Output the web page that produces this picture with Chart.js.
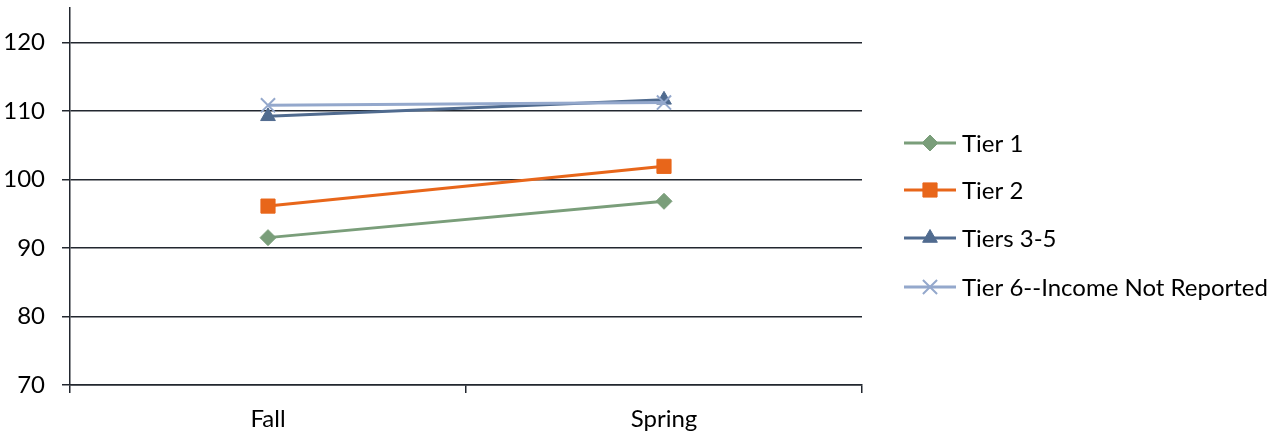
<!DOCTYPE html>
<html>
<head>
<meta charset="utf-8">
<script src="https://cdn.jsdelivr.net/npm/chart.js@4"></script>
<style>
html,body{margin:0;padding:0;background:#fff;}
#wrap{width:1288px;height:436px;position:relative;}
</style>
</head>
<body>
<div id="wrap"><canvas id="c" width="1288" height="436"></canvas></div>
<script>
const categories = ["Fall", "Spring"];
const seriesNames = ["Tier 1", "Tier 2", "Tiers 3-5", "Tier 6--Income Not Reported"];
const tier1 = [91.5, 96.8];
const tier2 = [96.1, 101.9];
const tiers3to5 = [109.2, 111.6];
const tier6 = [110.8, 111.2];
const yTicks = [70, 80, 90, 100, 110, 120];

const FONT = "Lato, 'Liberation Sans', sans-serif";
const FS = 24;
const AXIS = "#22272F";

const colors = ["#7A9E7A", "#E8661A", "#506B8F", "#94A8CC"];
const styles = ["rectRot", "rect", "triangle", "crossRot"];
const radii = [8, 10, 8.5, 10];
const values = [tier1, tier2, tiers3to5, tier6];

const datasets = seriesNames.map((n, i) => ({
  label: n,
  data: values[i],
  borderColor: colors[i],
  backgroundColor: colors[i],
  pointBackgroundColor: colors[i],
  pointBorderColor: colors[i],
  pointStyle: styles[i],
  pointRadius: radii[i],
  pointBorderWidth: i === 3 ? 2 : 1,
  borderWidth: 3,
  tension: 0,
  clip: false,
  order: 4 - i
}));

const legendPlugin = {
  id: 'sideLegend',
  afterDraw(chart) {
    const ctx = chart.ctx;
    const x0 = 904, x1 = 956, tx = 962;
    const ys = [143, 190, 238, 287];
    ctx.save();
    datasets.forEach((ds, i) => {
      const y = ys[i];
      ctx.strokeStyle = ds.borderColor;
      ctx.lineWidth = 3;
      ctx.beginPath(); ctx.moveTo(x0, y); ctx.lineTo(x1, y); ctx.stroke();
      ctx.fillStyle = ds.backgroundColor;
      ctx.strokeStyle = ds.borderColor;
      ctx.lineWidth = ds.pointBorderWidth;
      Chart.helpers.drawPoint(ctx, {pointStyle: ds.pointStyle, rotation: 0, radius: ds.pointRadius, borderWidth: ds.pointBorderWidth}, (x0 + x1) / 2, y);
      ctx.fillStyle = "#000";
      ctx.font = FS + "px " + FONT;
      ctx.textBaseline = "middle";
      ctx.textAlign = "left";
      ctx.fillText(ds.label, tx, y + 1);
    });
    ctx.restore();
  }
};

new Chart(document.getElementById('c'), {
  type: 'line',
  data: { labels: categories, datasets: datasets },
  plugins: [legendPlugin],
  options: {
    responsive: false,
    animation: false,
    devicePixelRatio: 1,
    layout: { autoPadding: false, padding: { left: 0, right: 426, top: 8, bottom: 0 } },
    plugins: { legend: { display: false }, tooltip: { enabled: false } },
    scales: {
      x: {
        offset: true,
        afterFit: (s) => { s.height = 51; s.paddingLeft = 0; s.paddingRight = 0; s.paddingTop = 0; s.paddingBottom = 0; },
        grid: { offset: true, drawOnChartArea: false, drawTicks: true, tickLength: 8, color: AXIS, lineWidth: 1.5 },
        border: { display: true, color: AXIS, width: 1.5 },
        ticks: { color: "#000", font: { family: FONT, size: FS }, padding: 12 }
      },
      y: {
        min: 70,
        max: 125,
        afterBuildTicks: (scale) => { scale.ticks = yTicks.map(v => ({ value: v })); },
        afterFit: (s) => { s.width = 70; s.paddingTop = 0; s.paddingBottom = 0; s.paddingLeft = 0; s.paddingRight = 0; },
        grid: { color: AXIS, lineWidth: 1.5, tickLength: 8 },
        border: { display: true, color: AXIS, width: 1.5 },
        ticks: { color: "#000", font: { family: FONT, size: FS }, padding: 17 }
      }
    }
  }
});
</script>
</body>
</html>
